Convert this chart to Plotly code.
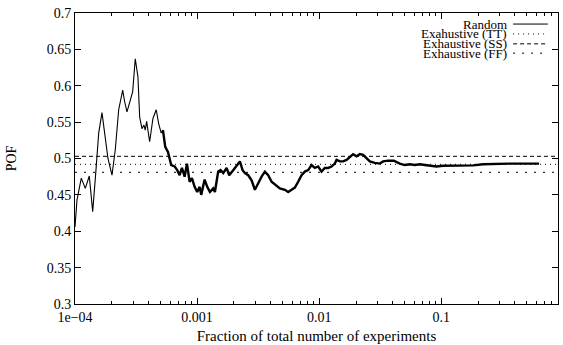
import plotly.graph_objects as go

# ---- data ----
frac = [1.0e-4, 1.038e-4, 1.126e-4, 1.214e-4, 1.309e-4, 1.396e-4, 1.485e-4, 1.563e-4,
        1.663e-4, 1.770e-4, 1.862e-4, 2.008e-4, 2.137e-4, 2.279e-4, 2.457e-4, 2.551e-4,
        2.664e-4, 2.835e-4, 2.967e-4, 3.115e-4, 3.277e-4, 3.384e-4, 3.534e-4, 3.669e-4,
        3.760e-4, 3.860e-4, 4.085e-4, 4.347e-4, 4.626e-4, 4.841e-4, 5.084e-4, 5.249e-4,
        5.482e-4, 5.768e-4, 5.957e-4, 6.140e-4, 6.546e-4, 6.875e-4, 7.192e-4, 7.511e-4,
        7.903e-4, 8.253e-4, 8.683e-4, 9.068e-4, 9.539e-4, 1.002e-3, 1.048e-3, 1.080e-3,
        1.152e-3, 1.210e-3, 1.273e-3, 1.354e-3, 1.398e-3, 1.488e-3, 1.557e-3, 1.636e-3,
        1.744e-3, 1.831e-3, 1.974e-3, 2.105e-3, 2.240e-3, 2.357e-3, 2.462e-3, 2.619e-3,
        2.793e-3, 2.972e-3, 3.162e-3, 3.372e-3, 3.588e-3, 3.818e-3, 4.070e-3, 4.332e-3,
        4.760e-3, 5.230e-3, 5.566e-3, 5.934e-3, 6.314e-3, 6.720e-3, 7.165e-3, 7.623e-3,
        8.113e-3, 8.650e-3, 9.205e-3, 9.795e-3, 1.044e-2, 1.111e-2, 1.182e-2, 1.261e-2,
        1.342e-2, 1.386e-2, 1.474e-2, 1.569e-2, 1.673e-2, 1.780e-2, 1.894e-2, 2.020e-2,
        2.149e-2, 2.287e-2, 2.439e-2, 2.595e-2, 2.851e-2, 3.132e-2, 3.334e-2, 3.663e-2,
        4.079e-2, 4.566e-2, 5.017e-2, 5.512e-2, 6.057e-2, 6.655e-2, 7.313e-2, 8.035e-2,
        9.117e-2, 0.1033, 0.1171, 0.1329, 0.1505, 0.1817, 0.2194, 0.2489, 0.3006, 0.3628,
        0.4381, 0.5289, 0.6302]
pof_random = [0.406, 0.443, 0.473, 0.459, 0.476, 0.427, 0.484, 0.535,
              0.563, 0.530, 0.500, 0.477, 0.512, 0.567, 0.594, 0.578,
              0.564, 0.580, 0.592, 0.637, 0.612, 0.557, 0.541, 0.546,
              0.539, 0.551, 0.523, 0.555, 0.567, 0.548, 0.535, 0.539,
              0.516, 0.509, 0.498, 0.491, 0.489, 0.484, 0.477, 0.487,
              0.475, 0.493, 0.468, 0.473, 0.461, 0.454, 0.461, 0.450,
              0.471, 0.461, 0.454, 0.459, 0.454, 0.482, 0.484, 0.480,
              0.487, 0.477, 0.484, 0.491, 0.496, 0.484, 0.480, 0.477,
              0.470, 0.457, 0.466, 0.475, 0.482, 0.477, 0.468, 0.464,
              0.459, 0.457, 0.454, 0.457, 0.460, 0.468, 0.477, 0.482,
              0.484, 0.491, 0.487, 0.489, 0.482, 0.487, 0.487, 0.489,
              0.493, 0.498, 0.496, 0.496, 0.498, 0.502, 0.506, 0.503,
              0.506, 0.505, 0.500, 0.496, 0.494, 0.493, 0.496, 0.497,
              0.497, 0.493, 0.491, 0.492, 0.491, 0.492, 0.491, 0.490,
              0.489, 0.490, 0.490, 0.490, 0.490, 0.4905, 0.492, 0.4924, 0.4934, 0.493,
              0.493, 0.493, 0.493]
pof_tt = 0.492
pof_ss = 0.503
pof_ff = 0.481

series_names = ["Random", "Exahustive (TT)", "Exhaustive (SS)", "Exhaustive (FF)"]
x_tickvals = [1e-4, 1e-3, 1e-2, 1e-1]
x_ticktext = ["1e\u221204", "0.001", "0.01", "0.1"]
y_tickvals = [0.3, 0.35, 0.4, 0.45, 0.5, 0.55, 0.6, 0.65, 0.7]

FONT = "Liberation Serif, Times New Roman, serif"
split = 31  # where the curve becomes dense/noisy

fig = go.Figure()
fig.add_trace(go.Scatter(x=frac[:split + 1], y=pof_random[:split + 1], mode="lines",
                         line=dict(color="black", width=1.1), showlegend=False))
fig.add_trace(go.Scatter(x=frac[split:], y=pof_random[split:], mode="lines",
                         line=dict(color="black", width=2.4), showlegend=False))

dash_styles = ["solid", "1px,4px", "4px,3px", "2px,7px"]
for val, dash in zip([pof_tt, pof_ss, pof_ff], dash_styles[1:]):
    fig.add_hline(y=val, line=dict(color="black", width=1, dash=dash))

# gnuplot-style key: text on the left, sample on the right
key_y = [0.962, 0.928, 0.894, 0.862]
for name, dash, ky in zip(series_names, dash_styles, key_y):
    fig.add_annotation(x=0.898, y=ky, xref="paper", yref="paper", text=name,
                       showarrow=False, xanchor="right", yanchor="middle",
                       font=dict(family=FONT, size=13, color="black"))
    fig.add_shape(type="line", xref="paper", yref="paper", x0=0.907, x1=0.979,
                  y0=ky, y1=ky, line=dict(color="black", width=1, dash=dash))

minor_vals = [k * 10 ** e for e in range(-4, 0) for k in range(2, 10)]

fig.update_xaxes(type="log", range=[-4, -0.045], tickvals=x_tickvals, ticktext=x_ticktext,
                 ticks="inside", ticklen=6, tickcolor="black", showline=True, linecolor="black",
                 linewidth=1, mirror="allticks", showgrid=False, zeroline=False,
                 automargin=False,
                 minor=dict(tickvals=minor_vals, ticks="inside", ticklen=3, tickcolor="black",
                            showgrid=False),
                 title=dict(text="Fraction of total number of experiments", standoff=6,
                            font=dict(family=FONT, size=15, color="black")),
                 tickfont=dict(family=FONT, size=14, color="black"))
fig.update_yaxes(range=[0.3, 0.7], tickvals=y_tickvals, ticks="inside", ticklen=6,
                 tickcolor="black", showline=True, linecolor="black", linewidth=1,
                 mirror="allticks", showgrid=False, zeroline=False, automargin=False,
                 title=dict(text="POF", standoff=26,
                            font=dict(family=FONT, size=14, color="black")),
                 tickfont=dict(family=FONT, size=14, color="black"))

fig.update_layout(width=563, height=345, margin=dict(l=75, r=5, t=13, b=41),
                  plot_bgcolor="white", paper_bgcolor="white",
                  font=dict(family=FONT, size=14, color="black"), showlegend=False)

fig.write_html("out.html", config={"displayModeBar": False},
               post_script="document.body.style.margin='0px';")
